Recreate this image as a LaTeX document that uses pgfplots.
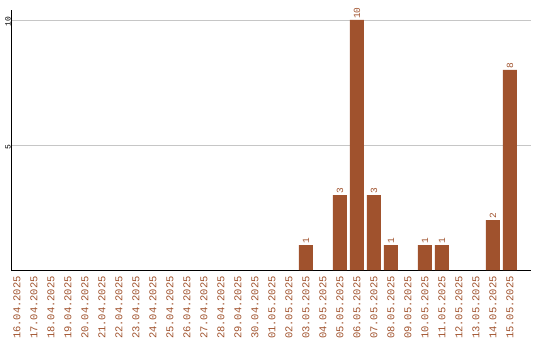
\documentclass[border=0pt]{standalone}
\usepackage{fontspec}
\setmainfont{Liberation Mono}
\usepackage{pgfplots}
\pgfplotsset{compat=1.18}
\definecolor{barc}{HTML}{A0522D}
\begin{document}
\begin{tikzpicture}
\begin{axis}[
  scale only axis,
  width=520bp, height=260bp,
  xmin=-0.35, xmax=30.24,
  ymin=0, ymax=10.4,
  axis x line=bottom, axis y line=left,
  axis line style={-, black, line width=1pt},
  xtick={0,...,29},
  xticklabels={16.04.2025,17.04.2025,18.04.2025,19.04.2025,20.04.2025,21.04.2025,22.04.2025,23.04.2025,24.04.2025,25.04.2025,26.04.2025,27.04.2025,28.04.2025,29.04.2025,30.04.2025,01.05.2025,02.05.2025,03.05.2025,04.05.2025,05.05.2025,06.05.2025,07.05.2025,08.05.2025,09.05.2025,10.05.2025,11.05.2025,12.05.2025,13.05.2025,14.05.2025,15.05.2025},
  xticklabel style={rotate=90, anchor=east, font=\fontsize{10.5}{11}\selectfont, text=barc, inner sep=0pt, xshift=-6bp},
  ytick={5,10},
  yticklabel style={rotate=90, anchor=south, font=\fontsize{8}{9}\selectfont, inner sep=0pt, xshift=-2bp},
  major tick length=0pt,
  ymajorgrids, grid style={gray!45, line width=0.8pt},
  /pgf/number format/assume math mode=true,
  ybar, bar width=14bp,
  nodes near coords,
  every node near coord/.append style={rotate=90, anchor=west, font=\fontsize{9.5}{10}\selectfont, text=barc, inner sep=1pt},
  clip=false,
]
\addplot[fill=barc, draw=none] coordinates {(17,1) (19,3) (20,10) (21,3) (22,1) (24,1) (25,1) (28,2) (29,8)};
\end{axis}
\pgfresetboundingbox
\useasboundingbox ([shift={(-11bp,-70bp)}]current axis.south west) rectangle ([shift={(9bp,10bp)}]current axis.north east);
\end{tikzpicture}
\end{document}
